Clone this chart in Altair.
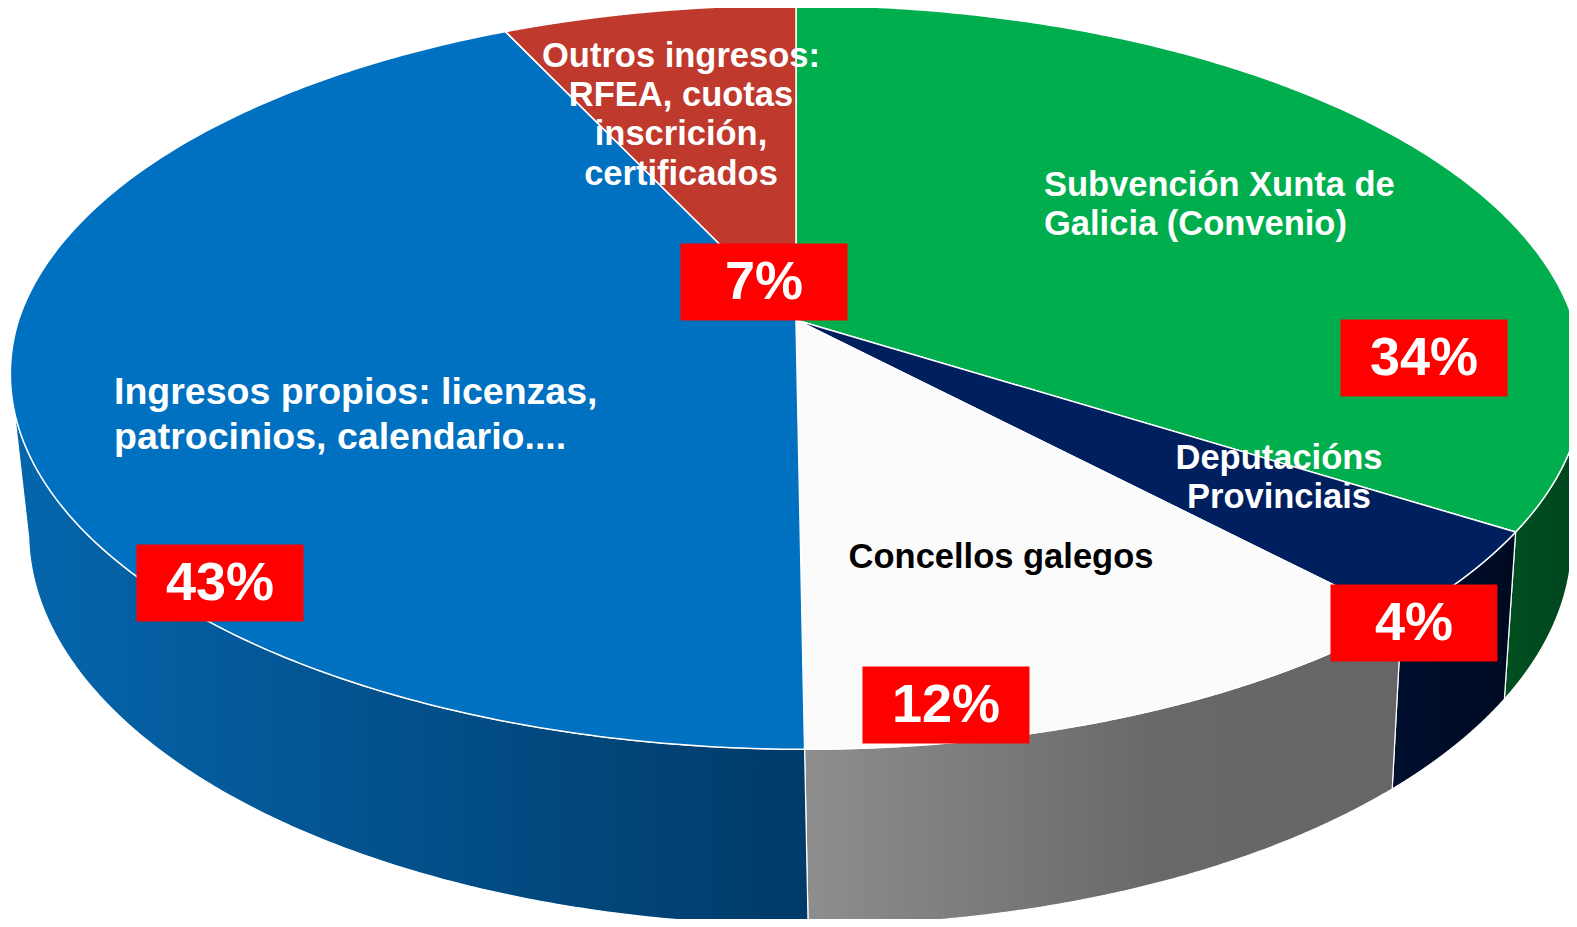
import numpy as np
import pandas as pd
import altair as alt

# ---------------- data ----------------
categories = [
    "Subvención Xunta de Galicia (Convenio)",
    "Deputacións Provinciais",
    "Concellos galegos",
    "Ingresos propios: licenzas, patrocinios, calendario....",
    "Outros ingresos: RFEA, cuotas inscrición, certificados",
]
shares = [34, 4, 12, 43, 7]
name_lines = [
    ["Subvención Xunta de", "Galicia (Convenio)"],
    ["Deputacións", "Provinciais"],
    ["Concellos galegos"],
    ["Ingresos propios: licenzas,", "patrocinios, calendario...."],
    ["Outros ingresos:", "RFEA, cuotas", "inscrición,", "certificados"],
]
top_colors = ["#00AE4E", "#001F5E", "#FBFBFB", "#0070C0", "#C0392D"]
wall_colors = [
    [("#00501F", 0), ("#004420", 1)],
    [("#000F2E", 0), ("#000A22", 1)],
    [("#8E8E8E", 0), ("#686868", 0.6), ("#666666", 1)],
    [("#0566AD", 0), ("#003A68", 1)],
    [("#8E2A20", 0), ("#7A2218", 1)],
]
name_colors = ["white", "white", "black", "white", "white"]

# ---------------- layout (pixel placement of labels) ----------------
name_pos = [  # (x, y of first line, align, line step, font size)
    (1044, 186, "left", 38.7, 34.5),
    (1279, 459, "center", 38.7, 34.5),
    (1001, 558, "center", 38.7, 34.5),
    (114, 393, "left", 45.3, 37.5),
    (681, 57, "center", 39.2, 34.5),
]
pct_pos = [(1424, 358), (1414, 623), (946, 705), (220, 583), (764, 282)]

# ---------------- 3D pie projection ----------------
S_A, C_A = 0.468, 0.884      # sin / cos of camera elevation
DIST, DEPTH = 5.74, 0.234    # camera distance, pie thickness (radius = 1)
SCALE_X, SCALE_Y, CX, CY, SHEAR = 4462.0, 4454.0, 796.0, 320.0, 0.02


def project(phi, drop=0.0):
    depth = DIST + drop * S_A + np.sin(phi) * C_A
    sx = np.cos(phi) / depth
    sy = (-drop * C_A + np.sin(phi) * S_A) / depth
    py = CY - SCALE_Y * sy
    px = CX + SCALE_X * sx + SHEAR * np.maximum(py - CY, 0)
    return px, py


rows = []
bounds = []
start = 90.0
for i, v in enumerate(shares):
    end = start - v * 3.6
    bounds.append((end, start))
    start = end

# top faces
for i, (lo, hi) in enumerate(bounds):
    pid = f"top{i}"
    phis = np.radians(np.linspace(hi, lo, 240))
    xs_, ys_ = project(phis)
    pts = [(CX, CY)] + list(zip(xs_, ys_)) + [(CX, CY)]
    for k, (x, y) in enumerate(pts):
        rows.append({"pid": pid, "k": k, "x": x, "y": y})

# front walls
edge = np.degrees(np.arcsin(C_A / DIST))
vis_lo, vis_hi = -180 + edge, -edge
walls = []
for i, (lo, hi) in enumerate(bounds):
    a, b = max(lo, vis_lo), min(hi, vis_hi)
    if b <= a:
        continue
    pid = f"wall{i}"
    walls.append((i, pid))
    phis = np.radians(np.linspace(a, b, 200))
    xt, yt = project(phis)
    xb, yb = project(phis[::-1], DEPTH)
    pts = list(zip(xt, yt)) + list(zip(xb, yb)) + [(xt[0], yt[0])]
    for k, (x, y) in enumerate(pts):
        rows.append({"pid": pid, "k": k, "x": x, "y": y})

geo = pd.DataFrame(rows)

XSC = alt.Scale(domain=[8, 1569], nice=False, zero=False)
YSC = alt.Scale(domain=[8, 919], nice=False, zero=False, reverse=True)


def X(f):
    return alt.X(f, scale=XSC, axis=None)


def Y(f):
    return alt.Y(f, scale=YSC, axis=None)


base = alt.Chart(geo)
layers = []
for i, pid in walls:
    grad = alt.LinearGradient(
        gradient="linear", x1=0, x2=1, y1=0, y2=0,
        stops=[alt.GradientStop(color=c, offset=o) for c, o in wall_colors[i]],
    )
    layers.append(
        base.transform_filter(alt.datum.pid == pid)
        .mark_line(fill=grad, stroke="white", strokeWidth=1.2, strokeJoin="round")
        .encode(x=X("x:Q"), y=Y("y:Q"), order="k:Q")
    )
for i in range(len(shares)):
    pid = f"top{i}"
    layers.append(
        base.transform_filter(alt.datum.pid == pid)
        .mark_line(fill=top_colors[i], stroke="white", strokeWidth=1.5, strokeJoin="round")
        .encode(x=X("x:Q"), y=Y("y:Q"), order="k:Q")
    )

# category name labels
nrows = []
for i, lines in enumerate(name_lines):
    x0, y0, al, step, fs = name_pos[i]
    for j, t in enumerate(lines):
        nrows.append({"t": t, "x": x0, "y": y0 + j * step, "al": al,
                      "col": name_colors[i], "fs": fs})
names = pd.DataFrame(nrows)
for al in ["left", "center"]:
    layers.append(
        alt.Chart(names).transform_filter(alt.datum.al == al)
        .mark_text(align=al, baseline="middle", font="Liberation Sans", fontWeight="bold")
        .encode(x=X("x:Q"), y=Y("y:Q"), text="t:N",
                color=alt.Color("col:N", scale=None),
                size=alt.Size("fs:Q", scale=None))
    )

# percentage boxes
pct = pd.DataFrame({"label": [f"{v}%" for v in shares],
                    "x": [p[0] for p in pct_pos], "y": [p[1] for p in pct_pos]})
pbase = alt.Chart(pct).transform_calculate(
    x1="datum.x - 83.5", x2="datum.x + 83.5", y1="datum.y - 38.5", y2="datum.y + 38.5")
layers.append(
    pbase.mark_rect(color="#FF0000").encode(
        x=X("x1:Q"), x2="x2:Q", y=Y("y1:Q"), y2="y2:Q")
)
layers.append(
    alt.Chart(pct).mark_text(align="center", baseline="middle", font="Liberation Sans",
                             fontWeight="bold", fontSize=54, color="white", dy=1)
    .encode(x=X("x:Q"), y=Y("y:Q"), text="label:N")
)

chart = alt.layer(*layers).properties(
    width=1561, height=911, padding=0, autosize=alt.AutoSizeParams(type="none")
).configure_view(stroke=None)

chart.save("out.html", embed_options={"renderer": "svg", "actions": False})
